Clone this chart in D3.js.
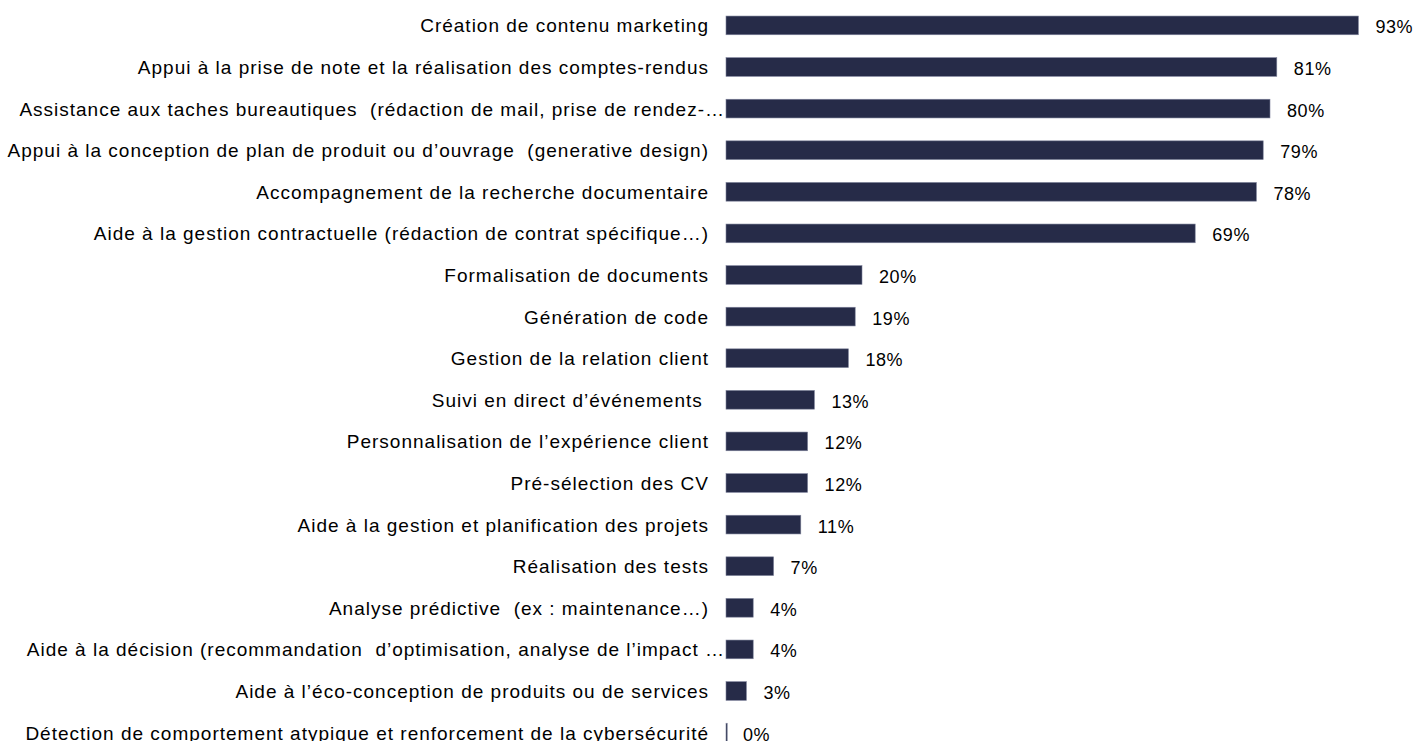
<!DOCTYPE html>
<meta charset="utf-8">
<style>
body { margin: 0; background: #fff; }
.bar { fill: #262b48; stroke: #7d8199; stroke-width: 0.6; }
.cat { font-family: "Liberation Sans", Arial, sans-serif; font-size: 19px; letter-spacing: 1px; fill: #000; white-space: pre; }
.val { font-family: "Liberation Sans", Arial, sans-serif; font-size: 18px; letter-spacing: 0.6px; fill: #000; }
</style>
<svg width="1416" height="741"></svg>
<script src="https://d3js.org/d3.v7.min.js"></script>
<script>

var categories = [
  "Création de contenu marketing",
  "Appui à la prise de note et la réalisation des comptes-rendus",
  "Assistance aux taches bureautiques  (rédaction de mail, prise de rendez-…",
  "Appui à la conception de plan de produit ou d’ouvrage  (generative design)",
  "Accompagnement de la recherche documentaire",
  "Aide à la gestion contractuelle (rédaction de contrat spécifique…)",
  "Formalisation de documents",
  "Génération de code",
  "Gestion de la relation client",
  "Suivi en direct d’événements ",
  "Personnalisation de l’expérience client",
  "Pré-sélection des CV",
  "Aide à la gestion et planification des projets",
  "Réalisation des tests",
  "Analyse prédictive  (ex : maintenance…)",
  "Aide à la décision (recommandation  d’optimisation, analyse de l’impact …",
  "Aide à l’éco-conception de produits ou de services",
  "Détection de comportement atypique et renforcement de la cybersécurité"
];

var values = [93, 81, 80, 79, 78, 69, 20, 19, 18, 13, 12, 12, 11, 7, 4, 4, 3, 0];

var data = categories.map(function(c, i) { return {name: c, value: values[i]}; });

var svg = d3.select("svg"),
    x0 = 726;

var x = d3.scaleLinear().domain([0, 100]).range([0, 680]);

var y = d3.scaleBand()
    .domain(categories)
    .range([4.6, 753.4])
    .paddingInner(0.55)
    .paddingOuter(0.275);

var g = svg.append("g").attr("transform", "translate(" + x0 + ",0)");

g.selectAll(".bar")
  .data(data)
  .enter().append("rect")
    .attr("class", "bar")
    .attr("x", 0)
    .attr("y", function(d) { return y(d.name); })
    .attr("width", function(d) { return Math.max(x(d.value), 1.2); })
    .attr("height", y.bandwidth());

g.selectAll(".val")
  .data(data)
  .enter().append("text")
    .attr("class", "val")
    .attr("x", function(d) { return x(d.value) + 17; })
    .attr("y", function(d) { return y(d.name) + y.bandwidth() / 2 + 8; })
    .text(function(d) { return d.value + "%"; });

// category labels, truncated ones run up to the bar
svg.selectAll(".cat")
  .data(data)
  .enter().append("text")
    .attr("class", "cat")
    .attr("text-anchor", "end")
    .attr("x", function(d) { return /…$/.test(d.name) ? x0 - 1 : x0 - 17; })
    .attr("y", function(d) { return y(d.name) + y.bandwidth() / 2 + 7; })
    .text(function(d) { return d.name; });

</script>
